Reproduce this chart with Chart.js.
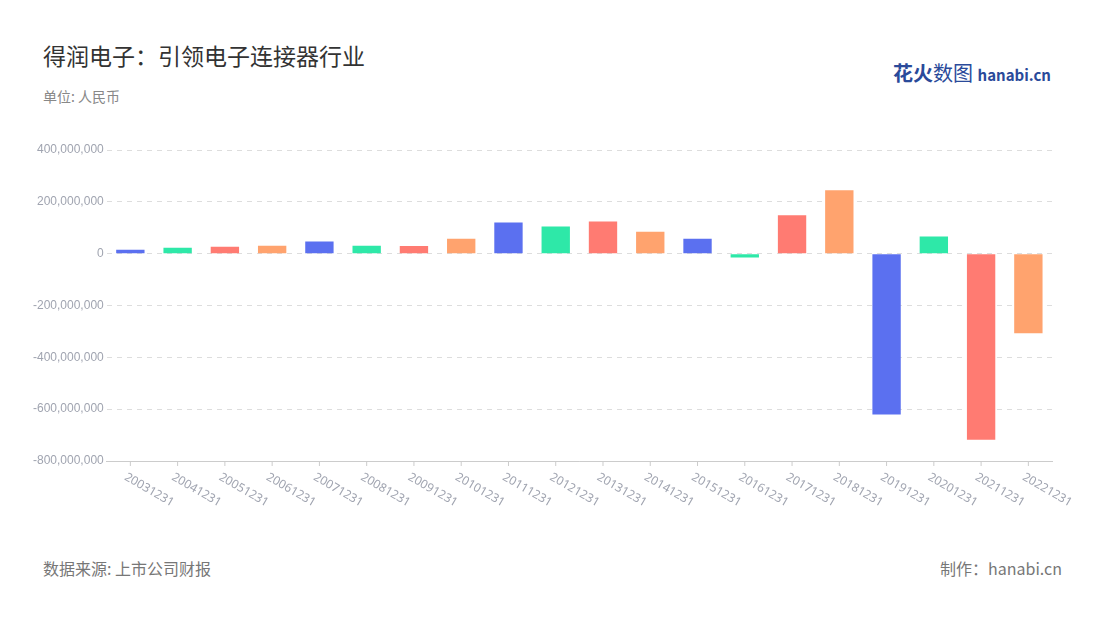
<!DOCTYPE html>
<html><head><meta charset="utf-8">
<script src="https://cdn.jsdelivr.net/npm/chart.js@4"></script>
<style>
body{margin:0;background:#fff;font-family:"Noto Sans CJK SC","Noto Sans",sans-serif;}
#wrap{position:relative;width:1100px;height:620px;}
.t{position:absolute;white-space:nowrap;}
</style></head><body>
<div id="wrap">
  <div class="t" style="left:43px;top:38px;font-size:23px;color:#333;">得润电子：引领电子连接器行业</div>
  <div class="t" style="left:43px;top:86px;font-size:14px;color:#888;">单位: 人民币</div>
  <div class="t" style="left:893px;top:58px;font-size:20px;font-weight:bold;color:#2a4a9a;">花火<span style="font-weight:normal">数图</span> <span style="font-size:15px">hanabi.cn</span></div>
  <div class="t" style="left:43px;top:556px;font-size:16px;color:#777;">数据来源: 上市公司财报</div>
  <div class="t" style="left:940px;top:556px;font-size:16px;color:#777;">制作：hanabi.cn</div>
  <div style="position:absolute;left:0;top:130px;width:1100px;height:400px;"><canvas id="c"></canvas></div>
</div>
<script>
// 年报日期
const periods = ['20031231','20041231','20051231','20061231','20071231','20081231','20091231','20101231','20111231','20121231','20131231','20141231','20151231','20161231','20171231','20181231','20191231','20201231','20211231','20221231'];
// 净利润
const profits = [15e6,23e6,27e6,31e6,47e6,31e6,30e6,58e6,120e6,105e6,124e6,85e6,58e6,-15e6,148e6,245e6,-621e6,66e6,-718e6,-307e6];
const palette = ['#5b70f0','#2ee8a8','#ff7b72','#ffa36e'];

const rotLabels = {
  id: 'rotLabels',
  afterDraw(chart) {
    const x = chart.scales.x, c = chart.ctx;
    c.save();
    c.font = '12px "Noto Sans", sans-serif';
    c.fillStyle = '#a0a4b0';
    c.textBaseline = 'top';
    periods.forEach((p, i) => {
      const px = x.getPixelForValue(i);
      c.save();
      c.translate(px - 2, x.top + 10);
      c.rotate(Math.PI / 6);
      c.fillText(p, 0, 0);
      c.restore();
      c.strokeStyle = '#ccc';
      c.beginPath(); c.moveTo(px, x.top); c.lineTo(px, x.top + 5); c.stroke();
    });
    c.restore();
  }
};

new Chart(document.getElementById('c'), {
  type: 'bar',
  data: {
    labels: periods,
    datasets: [{
      data: profits,
      backgroundColor: profits.map((v, i) => palette[i % 4]),
      categoryPercentage: 0.6,
      barPercentage: 1
    }]
  },
  options: {
    responsive: true,
    maintainAspectRatio: false,
    animation: false,
    layout: { padding: { left: 30, right: 48, top: 20, bottom: 61 } },
    plugins: { legend: { display: false }, tooltip: { enabled: false } },
    scales: {
      x: {
        grid: { display: false },
        border: { color: '#ccc' },
        ticks: { display: false }
      },
      y: {
        min: -800e6, max: 400e6,
        ticks: { stepSize: 200e6, color: '#a0a4b0', font: { size: 12 }, callback: v => v.toLocaleString('en-US') },
        grid: { color: '#ddd', drawTicks: false },
        border: { display: false, dash: [5, 5] }
      }
    }
  },
  plugins: [rotLabels]
});
</script>
</body></html>
